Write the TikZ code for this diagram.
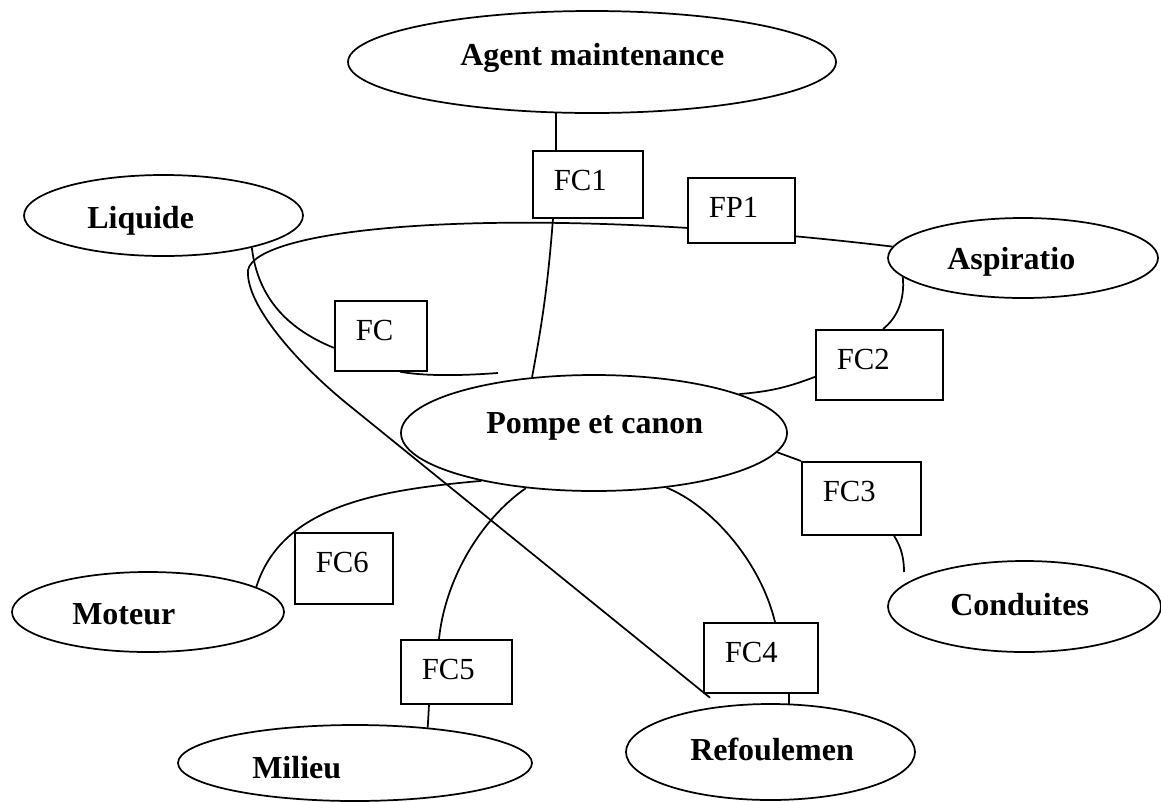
\documentclass[tikz,border=0pt]{standalone}
\usepackage{fontspec}
\setmainfont{Liberation Serif}
\usetikzlibrary{shapes.geometric,backgrounds}
\newcommand{\ellfont}{\fontsize{24pt}{28pt}\selectfont\bfseries}
\newcommand{\boxfont}{\fontsize{23pt}{27pt}\selectfont}
\tikzset{
  ell/.style 2 args={draw, fill=white, ellipse, inner sep=0pt,
    minimum width=#1, minimum height=#2, line width=1.3pt},
  elabel/.style={anchor=base west, inner sep=0pt, font=\ellfont},
  fbox/.style 2 args={draw, fill=white, anchor=north west, font=\boxfont,
    inner xsep=15.75pt, inner ysep=0pt, align=left, text width=#1,
    text height=30pt, text depth=#2, line width=1.3pt},
  link/.style={draw, line width=1.3pt},
}
\begin{document}
\begin{tikzpicture}[x=0.75pt, y=-0.75pt]
\useasboundingbox (0,0) rectangle (1161,801);

% outer elements
\node[ell={366pt}{76.5pt}]      (agent)  at (592,62)      {};
\node[ell={209.25pt}{60.75pt}]  (liq)    at (163.5,215.5) {};
\node[ell={202.5pt}{60pt}]      (asp)    at (1023,258)    {};
\node[ell={289.5pt}{87pt}]      (pompe)  at (594,433)     {};
\node[ell={204pt}{60pt}]        (moteur) at (148,612)     {};
\node[ell={265.5pt}{57pt}]      (milieu) at (355,763)     {};
\node[ell={216.75pt}{72pt}]     (refo)   at (770.5,752)   {};
\node[ell={204.75pt}{68.25pt}]  (cond)   at (1024.5,606.5){};

\node[elabel] (agent-t)  at (460,65)  {Agent maintenance};
\node[elabel] (liq-t)    at (87,228)  {Liquide};
\node[elabel] (asp-t)    at (947,269) {Aspiratio};
\node[elabel] (pompe-t)  at (486,433) {Pompe et canon};
\node[elabel] (moteur-t) at (72,624)  {Moteur};
\node[elabel] (milieu-t) at (252,778) {Milieu};
\node[elabel] (refo-t)   at (690,760) {Refoulemen};
\node[elabel] (cond-t)   at (950,615) {Conduites};

% function boxes
\node[fbox={51pt}{20.25pt}]    (fc1) at (532,150) {FC1};
\node[fbox={48.75pt}{18.75pt}] (fp1) at (687,177) {FP1};
\node[fbox={37.5pt}{22.5pt}]   (fc)  at (334,300) {FC};
\node[fbox={63.75pt}{22.5pt}]  (fc2) at (815,329) {FC2};
\node[fbox={57.75pt}{24.75pt}] (fc3) at (801,461) {FC3};
\node[fbox={42pt}{23.25pt}]    (fc6) at (294,532) {FC6};
\node[fbox={51.75pt}{18pt}]    (fc5) at (400,639) {FC5};
\node[fbox={54pt}{22.5pt}]     (fc4) at (703,622) {FC4};

\coordinate (fc-end)  at (498,373);
\coordinate (fc3-end) at (904,572);

% links, drawn beneath the shapes
\begin{scope}[on background layer]
  \path[link] (agent.235) -- (agent.235 |- fc1.north);
  \path[link] ([xshift=15.75pt]fc1.south west) to[bend left=3] (pompe.138);
  \path[link] (liq.-20) .. controls (258,300) and (290,330) .. ([yshift=-9pt]fc.west);
  \path[link] ([xshift=49.5pt]fc.south west) .. controls (430,377) and (470,375) .. (fc-end);
  \path[link] (asp.175) .. controls (500,200) and (238,228) .. (248,275)
        .. controls (250,310) and (300,365) .. (345,402)
        -- ([xshift=5.25pt,yshift=-3pt]fc4.south west);
  \path[link] (asp.189) .. controls (905,300) and (897,318) .. ([xshift=51pt]fc2.north west);
  \path[link] ([yshift=-9pt]fc2.west) to[bend left=8] (pompe.15);
  \path[link] (pompe.-6) -- (fc3.north west);
  \path[link] ([xshift=69.75pt]fc3.south west) .. controls (902,548) and (904,560) .. (fc3-end);
  \path[link] (pompe.-37) .. controls (710,505) and (760,560) .. ([xshift=54pt]fc4.north west);
  \path[link] (refo.69.6) -- (refo.69.6 |- fc4.south);
  \path[link] (pompe.219) .. controls (480,520) and (445,580) .. ([xshift=29.25pt]fc5.north west);
  \path[link] ([xshift=21.75pt]fc5.south west) -- (milieu.26);
  \path[link] (pompe.203) .. controls (380,490) and (282,505) .. (moteur.13);
\end{scope}
\end{tikzpicture}
\end{document}
